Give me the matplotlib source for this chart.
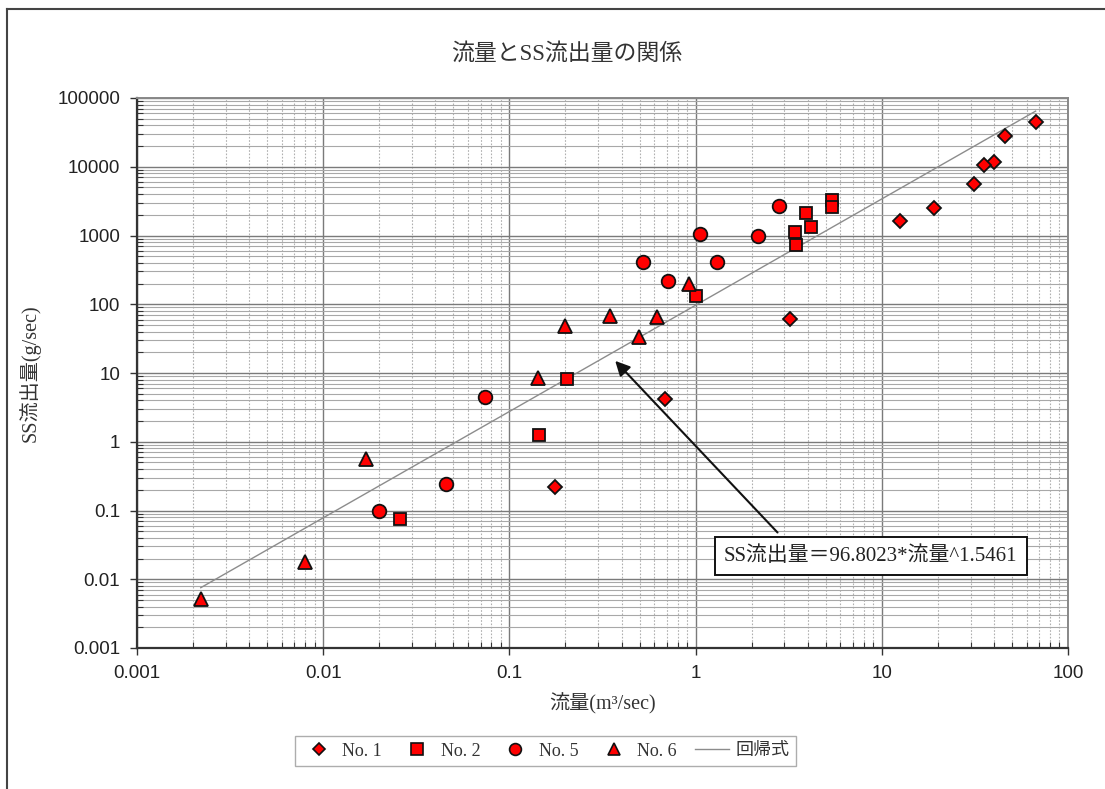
import matplotlib.pyplot as plt
from matplotlib.lines import Line2D
from matplotlib.ticker import FixedLocator, LogLocator, NullFormatter
import numpy as np

# Discharge (m3/sec) and SS load (g/sec) at each station
no1_q = [67, 45.8, 40.2, 35.2, 31.1, 19.1, 12.6, 3.22, 0.689, 0.175]
no1_ss = [44400, 28000, 11700, 10700, 5550, 2480, 1625, 61, 4.2, 0.22]

no2_q = [5.39, 5.39, 3.90, 4.19, 3.43, 3.47, 1.00, 0.204, 0.145, 0.0259]
no2_ss = [3280, 2600, 2100, 1316, 1114, 728, 133, 8.1, 1.25, 0.075]

no5_q = [2.82, 2.17, 1.05, 1.31, 0.525, 0.707, 0.0736, 0.0458, 0.0200]
no5_ss = [2720, 993, 1060, 416, 416, 220, 4.52, 0.240, 0.099]

no6_q = [0.925, 0.622, 0.348, 0.497, 0.198, 0.142, 0.0169, 0.00799, 0.0022]
no6_ss = [197, 65.9, 68.2, 33.7, 48.3, 8.45, 0.561, 0.018, 0.00516]

# regression: SS = a * Q^b
coef_a = 96.8023
coef_b = 1.5461

x_ticks = [0.001, 0.01, 0.1, 1, 10, 100]
x_labels = ["0.001", "0.01", "0.1", "1", "10", "100"]
y_ticks = [0.001, 0.01, 0.1, 1, 10, 100, 1000, 10000, 100000]
y_labels = ["0.001", "0.01", "0.1", "1", "10", "100", "1000", "10000", "100000"]

jp_serif = ["Liberation Serif", "Noto Sans CJK JP"]
tick_font = "Liberation Sans"

W, H = 1105, 789
fig = plt.figure(figsize=(W / 100, H / 100), dpi=100)
ax = fig.add_axes([137 / W, 1 - 648 / H, (1068 - 137) / W, (648 - 98) / H])

ax.set_xscale("log")
ax.set_yscale("log")
ax.set_xlim(0.001, 100)
ax.set_ylim(0.001, 100000)

# grid: solid majors, dotted x minors, solid y minors
ax.xaxis.set_major_locator(FixedLocator(x_ticks))
ax.yaxis.set_major_locator(FixedLocator(y_ticks))
ax.xaxis.set_minor_locator(LogLocator(base=10, subs=np.arange(2, 10), numticks=20))
ax.yaxis.set_minor_locator(LogLocator(base=10, subs=np.arange(2, 10), numticks=20))
ax.xaxis.set_minor_formatter(NullFormatter())
ax.yaxis.set_minor_formatter(NullFormatter())
ax.set_xticklabels(x_labels, fontfamily=tick_font, fontsize=13.5, color="#222")
ax.set_yticklabels(y_labels, fontfamily=tick_font, fontsize=13.5, color="#222")

ax.grid(which="major", color="#7a7a7a", lw=1.0, ls="-")
ax.grid(which="minor", axis="x", color="#b0b0b0", lw=0.8, ls=(0, (1.5, 1.5)))
ax.grid(which="minor", axis="y", color="#a8a8a8", lw=0.8, ls="-")
ax.set_axisbelow(True)

ax.tick_params(which="major", direction="out", length=5, width=1, color="#333", pad=7)
ax.tick_params(which="minor", direction="in", length=4, width=0.8, color="#333")
for side in ["left", "bottom"]:
    ax.spines[side].set_color("#333")
    ax.spines[side].set_linewidth(1.6)
for side in ["top", "right"]:
    ax.spines[side].set_color("#888")
    ax.spines[side].set_linewidth(1.4)

# regression curve over the observed discharge range
all_q = no1_q + no2_q + no5_q + no6_q
q_line = np.geomspace(min(all_q), max(all_q), 100)
ax.plot(q_line, coef_a * q_line ** coef_b, color="#8c8c8c", lw=1.0, zorder=3)

mk = dict(ls="none", mfc="#ff0000", mec="#111", mew=1.3, zorder=4)
ax.plot(no1_q, no1_ss, marker="D", ms=7.5, **mk)
ax.plot(no2_q, no2_ss, marker="s", ms=9.2, **mk)
ax.plot(no5_q, no5_ss, marker="o", ms=9.8, **mk)
ax.plot(no6_q, no6_ss, marker="^", ms=9.8, **mk)

# equation callout with arrow pointing to the curve
eq_text = "SS流出量＝%.4f*流量^%.4f" % (coef_a, coef_b)
ax.annotate("", xy=(0.37, 15), xycoords="data",
            xytext=(0.688, 0.21), textcoords="axes fraction",
            arrowprops=dict(arrowstyle="-|>", color="#111", lw=1.5,
                            mutation_scale=22, shrinkA=0, shrinkB=0),
            zorder=5)
ax.text(0.788, 0.167, eq_text, transform=ax.transAxes, ha="center", va="center",
        fontsize=15, family=jp_serif, color="#222", zorder=6,
        bbox=dict(boxstyle="square,pad=0.45", fc="white", ec="#111", lw=1.4))

fig.text(567 / W, 1 - 54 / H, "流量とSS流出量の関係", ha="center", va="center",
         fontsize=16.5, family=jp_serif, color="#333")
ax.set_xlabel("流量(m³/sec)", family=jp_serif, fontsize=14.5, color="#333", labelpad=8)
ax.set_ylabel("SS流出量(g/sec)", family=jp_serif, fontsize=14.5, color="#333", labelpad=12)

# outer chart frame (top and left edges)
fig.add_artist(Line2D([7 / W, 7 / W], [0, 1 - 9 / H], transform=fig.transFigure,
                      color="#444", lw=1.5))
fig.add_artist(Line2D([7 / W, 1], [1 - 9 / H, 1 - 9 / H], transform=fig.transFigure,
                      color="#444", lw=1.5))

leg_mk = dict(ls="none", mfc="#ff0000", mec="#111", mew=1.2)
handles = [
    Line2D([], [], marker="D", ms=6.5, **leg_mk),
    Line2D([], [], marker="s", ms=8, **leg_mk),
    Line2D([], [], marker="o", ms=8.5, **leg_mk),
    Line2D([], [], marker="^", ms=8.5, **leg_mk),
    Line2D([], [], color="#8c8c8c", lw=1.0),
]
labels = ["No. 1", "No. 2", "No. 5", "No. 6", "回帰式"]
leg = fig.legend(handles, labels, loc="center", bbox_to_anchor=(545.5 / W, 1 - 751 / H),
                 ncol=5, frameon=True, fancybox=False, edgecolor="#999",
                 handlelength=1.9, handletextpad=0.35, columnspacing=1.0,
                 prop=dict(family=jp_serif, size=13), borderpad=0.35)
leg.get_frame().set_linewidth(1.0)
for t in leg.get_texts():
    t.set_color("#333")

fig.savefig("out.png", dpi=100, facecolor="white")
